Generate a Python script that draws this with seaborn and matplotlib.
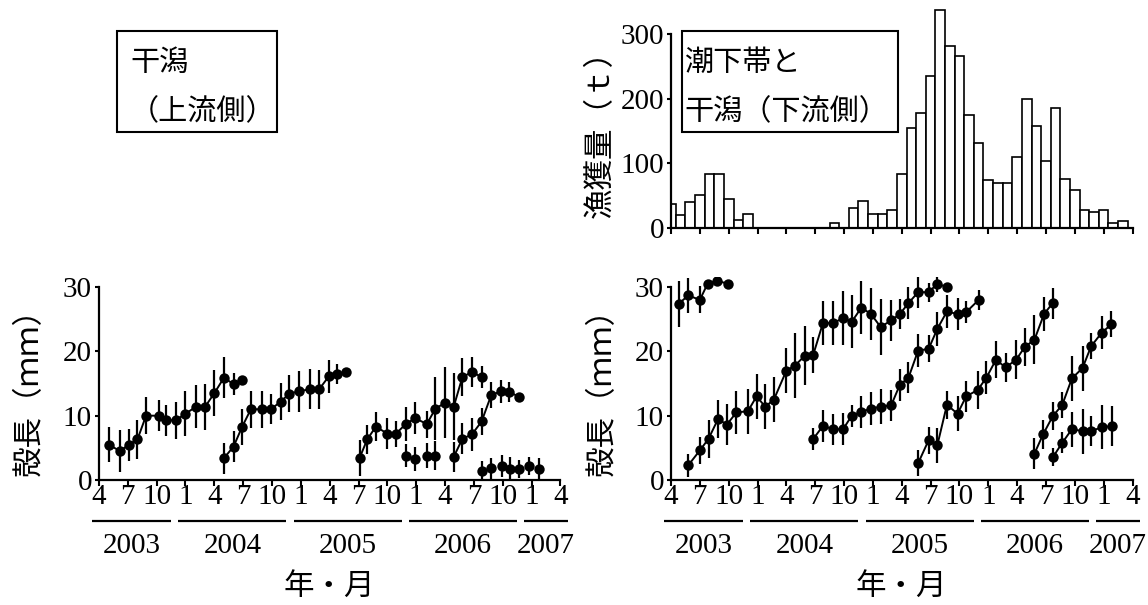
import matplotlib
matplotlib.use("Agg")
import matplotlib.pyplot as plt
import matplotlib.transforms as mtransforms
from matplotlib.patches import Rectangle
import seaborn as sns

sns.set_theme(style="ticks")
plt.rcParams["font.family"] = ["Liberation Serif", "Noto Sans CJK JP"]
plt.rcParams["axes.unicode_minus"] = False

# ---- time axis (month index 0 = April 2003) ----
tick_months = list(range(0, 49, 3))
tick_labels = ["4", "7", "10", "1", "4", "7", "10", "1", "4", "7", "10",
               "1", "4", "7", "10", "1", "4"]
years = ["2003", "2004", "2005", "2006", "2007"]
year_first_tick = [0, 9, 21, 33, 45]
year_last_tick = [6, 18, 30, 42, 48]

# ---- monthly catch (t): subtidal zone and downstream tidal flat ----
catch_month = list(range(48))
catch_t = [37, 19, 40, 50, 84, 84, 44, 12, 21, 0, 0, 0, 0, 0, 0, 0, 0, 7, 0,
           30, 41, 21, 21, 28, 84, 154, 178, 236, 338, 282, 266, 175, 131,
           74, 70, 69, 110, 199, 158, 104, 185, 76, 58, 27, 25, 28, 7, 11]

# ---- shell length (mm), upstream tidal flat: mean and SD per cohort ----
up_a_month = [1.0, 2.2, 3.1, 4.0, 4.9, 6.2, 7.0, 8.0, 9.0, 10.1, 11.0, 12.0, 13.0, 14.0, 14.9]
up_a_mean = [5.5, 4.5, 5.5, 6.3, 10.0, 10.0, 9.3, 9.3, 10.3, 11.4, 11.3, 13.5, 15.9, 14.9, 15.6]
up_a_sd = [2.7, 3.2, 2.5, 3.1, 2.9, 2.4, 2.4, 2.9, 3.5, 3.3, 3.6, 3.6, 3.2, 1.7, 0.0]

up_b_month = [13.0, 14.0, 14.9, 15.8, 17.0, 17.9, 18.9, 19.8, 20.8, 21.9, 22.9, 23.9, 24.8, 25.7]
up_b_mean = [3.4, 5.2, 8.3, 11.0, 11.0, 11.0, 12.2, 13.4, 13.8, 14.1, 14.1, 16.1, 16.5, 16.8]
up_b_sd = [2.4, 2.4, 2.8, 2.9, 2.9, 2.3, 2.9, 2.9, 3.2, 3.1, 3.0, 2.6, 1.5, 0.0]

up_c_month = [27.1, 27.9, 28.8, 30.0, 30.9, 31.9, 32.9, 34.1, 35.0, 36.0, 36.9, 37.8, 38.8, 39.8]
up_c_mean = [3.4, 6.3, 8.3, 7.2, 7.2, 8.7, 9.6, 8.7, 11.1, 12.0, 11.4, 16.0, 16.8, 16.0]
up_c_sd = [2.8, 2.3, 2.3, 2.4, 2.0, 2.6, 2.5, 2.1, 4.9, 5.5, 5.2, 2.9, 2.3, 1.7]

up_d_month = [36.9, 37.8, 38.8, 39.8, 40.8, 41.8, 42.7, 43.7]
up_d_mean = [3.6, 6.4, 7.1, 9.1, 13.2, 13.8, 13.7, 12.9]
up_d_sd = [2.3, 2.4, 2.6, 2.1, 2.0, 1.8, 1.6, 0.0]

up_e_month = [31.9, 32.9, 34.1, 35.0]
up_e_mean = [3.8, 3.3, 3.8, 3.8]
up_e_sd = [1.8, 1.9, 2.0, 2.3]

up_f_month = [39.8, 40.8, 41.9, 42.8, 43.7, 44.7, 45.8]
up_f_mean = [1.4, 1.8, 2.2, 1.7, 1.7, 2.2, 1.7]
up_f_sd = [1.6, 1.6, 1.7, 1.8, 1.4, 1.4, 1.7]

# ---- shell length (mm), subtidal + downstream flat ----
dn_a_month = [0.8, 1.8, 3.0, 3.8, 4.8, 5.9]
dn_a_mean = [27.4, 28.7, 28.0, 30.5, 31.0, 30.5]
dn_a_sd = [3.6, 2.7, 2.1, 0.0, 0.0, 0.0]

dn_b_month = [1.8, 3.0, 3.9, 4.9, 5.8, 6.8, 8.0, 8.9, 9.8, 10.7, 12.0, 12.9, 13.9, 14.8,
              15.8, 16.9, 17.9, 18.8, 19.8, 20.8, 21.8, 22.9, 23.8, 24.7, 25.7, 26.8, 27.7, 28.7]
dn_b_mean = [2.3, 4.6, 6.4, 9.5, 8.6, 10.5, 10.7, 13.0, 11.4, 12.5, 17.0, 17.8, 19.3, 19.5,
             24.4, 24.4, 25.2, 24.6, 26.8, 25.8, 23.8, 24.8, 25.8, 27.5, 29.2, 29.2, 30.5, 30.0]
dn_b_sd = [1.8, 2.1, 3.0, 2.9, 3.2, 3.3, 3.5, 3.5, 3.5, 3.5, 3.5, 5.0, 4.6, 2.8,
           3.4, 3.4, 4.2, 4.1, 4.1, 4.0, 4.3, 3.2, 2.3, 2.5, 2.4, 1.5, 1.2, 0.0]

dn_c_month = [14.8, 15.8, 16.9, 17.9, 18.8, 19.8, 20.8, 21.8, 22.9, 23.8, 24.7, 25.7,
              26.8, 27.7, 28.7, 29.8, 30.7, 32.0]
dn_c_mean = [6.4, 8.4, 7.9, 7.9, 10.0, 10.6, 11.1, 11.4, 11.6, 14.8, 15.9, 20.1,
             20.4, 23.5, 26.2, 25.8, 26.1, 28.0]
dn_c_sd = [1.7, 2.5, 2.4, 2.5, 1.7, 2.5, 2.6, 2.7, 2.4, 2.5, 2.4, 2.6,
           2.1, 2.6, 2.6, 2.5, 1.7, 1.6]

dn_d_month = [25.7, 26.8, 27.7, 28.7, 29.8, 30.7, 31.9, 32.8, 33.8, 34.8, 35.9, 36.8, 37.8, 38.8, 39.7]
dn_d_mean = [2.6, 6.2, 5.4, 11.7, 10.3, 13.0, 14.0, 15.9, 18.7, 17.5, 18.7, 20.7, 21.8, 25.8, 27.5]
dn_d_sd = [2.0, 2.1, 2.7, 2.2, 2.7, 2.4, 2.9, 2.6, 2.9, 2.3, 3.0, 3.0, 3.8, 2.7, 2.4]

dn_e_month = [37.8, 38.7, 39.7, 40.7, 41.7, 42.8, 43.7, 44.8, 45.8]
dn_e_mean = [4.1, 7.1, 9.9, 11.7, 15.8, 17.4, 20.8, 22.9, 24.2]
dn_e_sd = [2.4, 2.3, 2.2, 2.0, 3.5, 3.5, 2.0, 2.6, 2.0]

dn_f_month = [39.7, 40.7, 41.7, 42.8, 43.7, 44.8, 45.9]
dn_f_mean = [3.5, 5.8, 7.9, 7.6, 7.6, 8.2, 8.4]
dn_f_sd = [1.4, 1.6, 2.7, 3.5, 2.3, 3.4, 3.1]

LABEL_SIZE = 21
TEXT_SIZE = 21
AXIS_TITLE_SIZE = 22

fig = plt.figure(figsize=(11.48, 6.05), dpi=100)
ax_up = fig.add_axes([0.0862, 0.2066, 0.4020, 0.3349])
ax_dn = fig.add_axes([0.5845, 0.2066, 0.4020, 0.3349])
ax_h = fig.add_axes([0.5845, 0.6236, 0.4020, 0.3729])


def style_axis(ax):
    sns.despine(ax=ax)
    for side in ("left", "bottom"):
        ax.spines[side].set_linewidth(1.6)
        ax.spines[side].set_color("black")
    ax.tick_params(axis="both", direction="out", width=1.5, color="black",
                   labelsize=LABEL_SIZE, labelcolor="black")
    ax.tick_params(axis="x", length=4, pad=-1)
    ax.tick_params(axis="y", length=3, pad=2)
    ax.set_xlim(0, 48)
    ax.set_xticks(tick_months)
    ax.spines["bottom"].set_bounds(0, 48)
    ax.set_facecolor("white")


def time_axis(ax):
    ax.set_xticklabels(tick_labels)
    line_tr = mtransforms.offset_copy(ax.get_xaxis_transform(), fig=fig, y=-41, units="dots")
    year_tr = mtransforms.offset_copy(ax.get_xaxis_transform(), fig=fig, y=-66, units="dots")
    for yr, t0, t1 in zip(years, year_first_tick, year_last_tick):
        lab0 = tick_labels[tick_months.index(t0)]
        lab1 = tick_labels[tick_months.index(t1)]
        x0 = t0 - 0.75 * len(lab0)
        x1 = t1 + 0.75 * len(lab1)
        ax.plot([x0, x1], [0, 0], transform=line_tr, color="black", lw=1.6,
                clip_on=False, solid_capstyle="butt")
        ax.text((x0 + x1) / 2, 0, yr, transform=year_tr, ha="center", va="center",
                fontsize=LABEL_SIZE, color="black")
    ax.set_xlabel("年・月", fontsize=AXIS_TITLE_SIZE, color="black")
    ax.xaxis.set_label_coords(0.5, -0.46)


def cohort(ax, month, mean, sd, connect=True):
    ax.errorbar(month, mean, yerr=sd, fmt="none", ecolor="black",
                elinewidth=1.6, capsize=0, zorder=2)
    if connect:
        sns.lineplot(x=month, y=mean, ax=ax, color="black", linewidth=1.4,
                     marker="o", markersize=7.5, markeredgewidth=0,
                     estimator=None, sort=False, zorder=3)
    else:
        sns.scatterplot(x=month, y=mean, ax=ax, color="black", s=56,
                        linewidth=0, zorder=3)


def length_axis(ax):
    style_axis(ax)
    ax.set_ylim(0, 31.5)
    ax.set_yticks([0, 10, 20, 30])
    ax.spines["left"].set_bounds(0, 30)
    ax.set_ylabel("殻長（ｍｍ）", fontsize=AXIS_TITLE_SIZE, color="black", va="center")
    ax.yaxis.set_label_coords(-0.148, 0.47)
    time_axis(ax)


# upstream tidal flat
cohort(ax_up, up_a_month, up_a_mean, up_a_sd)
cohort(ax_up, up_b_month, up_b_mean, up_b_sd)
cohort(ax_up, up_c_month, up_c_mean, up_c_sd)
cohort(ax_up, up_d_month, up_d_mean, up_d_sd)
cohort(ax_up, up_e_month, up_e_mean, up_e_sd, connect=False)
cohort(ax_up, up_f_month, up_f_mean, up_f_sd, connect=False)
length_axis(ax_up)

# subtidal zone and downstream tidal flat
cohort(ax_dn, dn_a_month, dn_a_mean, dn_a_sd)
cohort(ax_dn, dn_b_month, dn_b_mean, dn_b_sd)
cohort(ax_dn, dn_c_month, dn_c_mean, dn_c_sd)
cohort(ax_dn, dn_d_month, dn_d_mean, dn_d_sd)
cohort(ax_dn, dn_e_month, dn_e_mean, dn_e_sd)
cohort(ax_dn, dn_f_month, dn_f_mean, dn_f_sd)
length_axis(ax_dn)

# monthly catch histogram
sns.barplot(x=catch_month, y=catch_t, ax=ax_h, native_scale=True, width=1,
            color="white", edgecolor="black", linewidth=1.2, errorbar=None)
style_axis(ax_h)
ax_h.set_xticklabels([])
ax_h.set_ylim(0, 350)
ax_h.set_yticks([0, 100, 200, 300])
ax_h.spines["left"].set_bounds(0, 300)
ax_h.set_ylabel("漁獲量（ｔ）", fontsize=AXIS_TITLE_SIZE, color="black", va="center")
ax_h.yaxis.set_label_coords(-0.152, 0.45)
ax_h.set_xlabel("")

# site labels in framed boxes
W, H = 1148.0, 605.0
for (bx, bw, lines, tx) in [
    (117, 160, ["干潟", "（上流側）"], 130),
    (682, 216, ["潮下帯と", "干潟（下流側）"], 684),
]:
    fig.add_artist(Rectangle((bx / W, 1 - 132 / H), bw / W, 101 / H,
                             transform=fig.transFigure, fill=False,
                             edgecolor="black", linewidth=1.5))
    for text, yc in zip(lines, [64, 112]):
        fig.text(tx / W, 1 - yc / H, text, ha="left", va="center",
                 fontsize=TEXT_SIZE, color="black")

fig.savefig("out.png", dpi=100, facecolor="white")
